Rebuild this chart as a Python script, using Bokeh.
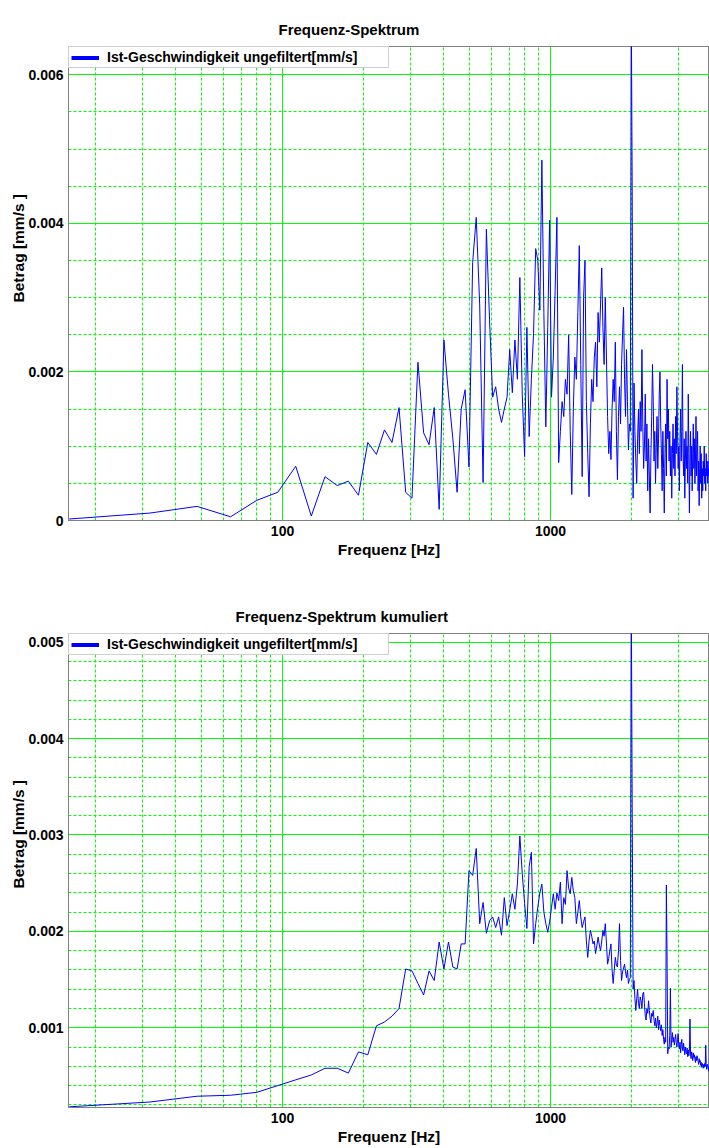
from bokeh.plotting import figure
from bokeh.models import FixedTicker, Range1d, Legend, LegendItem, Title
from bokeh.layouts import column
from bokeh.embed import file_html
from bokeh.resources import INLINE

TITLE_TOP = "Frequenz-Spektrum"
TITLE_BOTTOM = "Frequenz-Spektrum kumuliert"
SERIES_NAME = "Ist-Geschwindigkeit ungefiltert[mm/s]"
X_LABEL = "Frequenz [Hz]"
Y_LABEL = "Betrag [mm/s ]"

BIN_HZ = 16
FREQ_HZ = [BIN_HZ * k for k in range(1, 246)]

AMPLITUDE = [
    0.00002, 0.00010, 0.00019, 0.00005, 0.00027, 0.00038, 0.00073, 0.00006, 0.00059, 0.00047,
    0.00053, 0.00034, 0.00105, 0.00089, 0.00122, 0.00105, 0.00152, 0.00038, 0.00030, 0.00213,
    0.00118, 0.00102, 0.00152, 0.00015, 0.00243, 0.00170, 0.00110, 0.00038, 0.00150, 0.00176,
    0.00072, 0.00347, 0.00408, 0.00290, 0.00051, 0.00392, 0.00270, 0.00166, 0.00180, 0.00150,
    0.00132, 0.00150, 0.00166, 0.00230, 0.00172, 0.00243, 0.00190, 0.00327, 0.00170, 0.00086,
    0.00260, 0.00113, 0.00190, 0.00252, 0.00366, 0.00350, 0.00283, 0.00485, 0.00280, 0.00126,
    0.00260, 0.00404, 0.00166, 0.00220, 0.00310, 0.00408, 0.00078, 0.00120, 0.00160, 0.00140,
    0.00190, 0.00170, 0.00250, 0.00120, 0.00035, 0.00150, 0.00220, 0.00190, 0.00280, 0.00370,
    0.00210, 0.00059, 0.00300, 0.00350, 0.00160, 0.00090, 0.00032, 0.00130, 0.00190, 0.00160,
    0.00220, 0.00240, 0.00180, 0.00280, 0.00240, 0.00290, 0.00340, 0.00260, 0.00210, 0.00300,
    0.00220, 0.00140, 0.00090, 0.00120, 0.00082, 0.00150, 0.00190, 0.00160, 0.00240, 0.00120,
    0.00055, 0.00140, 0.00180, 0.00130, 0.00210, 0.00250, 0.00287, 0.00190, 0.00140, 0.00230,
    0.00160, 0.00095, 0.00130, 0.00120, 0.00700, 0.00450, 0.00030, 0.00185, 0.00120, 0.00080,
    0.00050, 0.00110, 0.00150, 0.00090, 0.00160, 0.00120, 0.00230, 0.00130, 0.00070, 0.00100,
    0.00170, 0.00080, 0.00130, 0.00040, 0.00110, 0.00060, 0.00010, 0.00090, 0.00140, 0.00210,
    0.00160, 0.00080, 0.00120, 0.00050, 0.00100, 0.00140, 0.00070, 0.00110, 0.00170, 0.00200,
    0.00130, 0.00090, 0.00040, 0.00120, 0.00070, 0.00010, 0.00090, 0.00130, 0.00060, 0.00190,
    0.00110, 0.00150, 0.00080, 0.00120, 0.00060, 0.00100, 0.00030, 0.00090, 0.00130, 0.00070,
    0.00110, 0.00060, 0.00140, 0.00090, 0.00180, 0.00120, 0.00070, 0.00100, 0.00040, 0.00110,
    0.00150, 0.00080, 0.00120, 0.00210, 0.00090, 0.00060, 0.00110, 0.00030, 0.00080, 0.00120,
    0.00070, 0.00100, 0.00050, 0.00170, 0.00090, 0.00010, 0.00080, 0.00120, 0.00060, 0.00100,
    0.00040, 0.00090, 0.00130, 0.00070, 0.00110, 0.00050, 0.00080, 0.00140, 0.00060, 0.00090,
    0.00120, 0.00040, 0.00080, 0.00020, 0.00070, 0.00100, 0.00050, 0.00090, 0.00030, 0.00070,
    0.00040, 0.00080, 0.00060, 0.00100, 0.00050, 0.00070, 0.00040, 0.00090, 0.00060, 0.00080,
    0.00050, 0.00070, 0.00060, 0.00080, 0.00060,
]

CUMULATED = [
    0.00018, 0.00023, 0.00029, 0.00030, 0.00033, 0.00040, 0.00046, 0.00051, 0.00058, 0.00058,
    0.00053, 0.00075, 0.00072, 0.00102, 0.00106, 0.00112, 0.00120, 0.00161, 0.00159, 0.00146,
    0.00134, 0.00159, 0.00149, 0.00189, 0.00161, 0.00189, 0.00163, 0.00161, 0.00187, 0.00187,
    0.00263, 0.00258, 0.00286, 0.00208, 0.00230, 0.00198, 0.00211, 0.00215, 0.00204, 0.00215,
    0.00196, 0.00235, 0.00206, 0.00222, 0.00239, 0.00223, 0.00249, 0.00299, 0.00260, 0.00229,
    0.00203, 0.00267, 0.00282, 0.00187, 0.00208, 0.00225, 0.00240, 0.00249, 0.00220, 0.00208,
    0.00199, 0.00210, 0.00225, 0.00239, 0.00223, 0.00240, 0.00232, 0.00251, 0.00208, 0.00235,
    0.00228, 0.00263, 0.00245, 0.00239, 0.00256, 0.00242, 0.00235, 0.00208, 0.00220, 0.00232,
    0.00215, 0.00204, 0.00210, 0.00215, 0.00190, 0.00173, 0.00190, 0.00201, 0.00195, 0.00187,
    0.00190, 0.00177, 0.00185, 0.00194, 0.00186, 0.00180, 0.00190, 0.00201, 0.00195, 0.00208,
    0.00188, 0.00166, 0.00172, 0.00180, 0.00187, 0.00160, 0.00146, 0.00160, 0.00173, 0.00165,
    0.00163, 0.00180, 0.00208, 0.00170, 0.00149, 0.00158, 0.00162, 0.00166, 0.00158, 0.00152,
    0.00160, 0.00146, 0.00150, 0.00152, 0.00560, 0.00330, 0.00140, 0.00149, 0.00130, 0.00118,
    0.00130, 0.00140, 0.00125, 0.00120, 0.00132, 0.00128, 0.00120, 0.00135, 0.00137, 0.00125,
    0.00112, 0.00108, 0.00120, 0.00115, 0.00128, 0.00118, 0.00110, 0.00105, 0.00115, 0.00112,
    0.00118, 0.00108, 0.00102, 0.00110, 0.00100, 0.00105, 0.00112, 0.00098, 0.00108, 0.00102,
    0.00097, 0.00103, 0.00092, 0.00098, 0.00088, 0.00083, 0.00090, 0.00085, 0.00248, 0.00175,
    0.00073, 0.00080, 0.00078, 0.00092, 0.00141, 0.00080, 0.00088, 0.00095, 0.00085, 0.00090,
    0.00082, 0.00088, 0.00093, 0.00085, 0.00080, 0.00088, 0.00094, 0.00082, 0.00078, 0.00085,
    0.00074, 0.00082, 0.00088, 0.00079, 0.00076, 0.00084, 0.00078, 0.00072, 0.00080, 0.00075,
    0.00073, 0.00079, 0.00070, 0.00077, 0.00071, 0.00076, 0.00109, 0.00072, 0.00068, 0.00075,
    0.00071, 0.00066, 0.00074, 0.00069, 0.00072, 0.00067, 0.00064, 0.00070, 0.00066, 0.00071,
    0.00068, 0.00065, 0.00062, 0.00068, 0.00064, 0.00066, 0.00061, 0.00064, 0.00059, 0.00063,
    0.00061, 0.00058, 0.00062, 0.00059, 0.00063, 0.00060, 0.00082, 0.00063, 0.00057, 0.00060,
    0.00062, 0.00058, 0.00055, 0.00060, 0.00059,
]

X_MAJOR_TICKS = [100, 1000]
X_TICK_LABELS = ["100", "1000"]
X_MINOR_TICKS = [20, 30, 40, 50, 60, 70, 80, 90,
                 200, 300, 400, 500, 600, 700, 800, 900,
                 2000, 3000]

Y_TOP_MAJOR = [0, 0.002, 0.004, 0.006]
Y_TOP_LABELS = ["0", "0.002", "0.004", "0.006"]
Y_TOP_MINOR = [0.0005, 0.001, 0.0015, 0.0025, 0.003, 0.0035, 0.0045, 0.005, 0.0055]

Y_BOT_MAJOR = [0.001, 0.002, 0.003, 0.004, 0.005]
Y_BOT_LABELS = ["0.001", "0.002", "0.003", "0.004", "0.005"]
Y_BOT_MINOR = [0.0002, 0.0004, 0.0006, 0.0008, 0.0012, 0.0014, 0.0016, 0.0018,
               0.0022, 0.0024, 0.0026, 0.0028, 0.0032, 0.0034, 0.0036, 0.0038,
               0.0042, 0.0044, 0.0046, 0.0048]

FONT = "Liberation Sans"
GREEN = "#00ff00"
GRAY = "#808080"
BLUE = "#0000ff"


def make_chart(title, title_offset, values, y_range, y_major, y_minor, y_labels,
               height, top, bottom, ylabel_offset):
    p = figure(width=709, height=height, x_axis_type="log",
               x_range=Range1d(15.9, 3917), y_range=Range1d(*y_range),
               output_backend="svg", toolbar_location=None,
               min_border_left=68, min_border_right=0,
               min_border_top=top, min_border_bottom=bottom,
               background_fill_color="white", border_fill_color="white")
    p.title.text = title
    p.title.align = "left"
    p.title.offset = title_offset
    p.title.text_font = FONT
    p.title.text_font_style = "bold"
    p.title.text_font_size = "15px"
    p.title.text_color = "#000000"
    p.title.standoff = 18
    p.outline_line_color = GRAY

    xt = FixedTicker(ticks=X_MAJOR_TICKS, minor_ticks=X_MINOR_TICKS)
    yt = FixedTicker(ticks=y_major, minor_ticks=y_minor)
    p.xaxis.ticker = xt
    p.yaxis.ticker = yt
    p.xgrid.ticker = xt
    p.ygrid.ticker = yt
    p.xaxis.major_label_overrides = dict(zip(X_MAJOR_TICKS, X_TICK_LABELS))
    p.yaxis.major_label_overrides = dict(zip(y_major, y_labels))
    p.xaxis.axis_label = X_LABEL
    for ax in (p.xaxis, p.yaxis):
        ax.major_tick_line_color = None
        ax.minor_tick_line_color = None
        ax.major_tick_out = 0
        ax.minor_tick_out = 0
        ax.axis_line_color = GRAY
        ax.major_label_text_font = FONT
        ax.major_label_text_font_style = "bold"
        ax.major_label_text_font_size = "14px"
        ax.major_label_text_color = "#000000"
        ax.major_label_standoff = 5
        ax.axis_label_text_font = FONT
        ax.axis_label_text_font_style = "bold"
        ax.axis_label_text_font_size = "15.5px"
        ax.axis_label_text_color = "#000000"
        ax.axis_label_standoff = 2
    for g in (p.xgrid, p.ygrid):
        g.grid_line_color = GREEN
        g.grid_line_width = 1
        g.minor_grid_line_color = GREEN
        g.minor_grid_line_dash = "3 2"
        g.minor_grid_line_width = 1

    # y-axis title, placed like the original (above the frame centre)
    p.add_layout(Title(text=Y_LABEL, align="left", offset=ylabel_offset, standoff=-3,
                       text_font=FONT, text_font_style="bold",
                       text_font_size="15.5px", text_color="#000000"), "left")

    p.line(FREQ_HZ, values, line_color=BLUE, line_width=1)
    # hidden copy only to give the legend a thick swatch
    proxy = p.line(FREQ_HZ, values, line_color=BLUE, line_width=4, visible=False)
    legend = Legend(items=[LegendItem(label=SERIES_NAME, renderers=[proxy])],
                    location="top_left", margin=0, padding=2, spacing=0,
                    glyph_width=28, glyph_height=11, label_height=11,
                    label_width=279, label_standoff=8,
                    border_line_color="#a0a0a0", border_line_width=1,
                    background_fill_color="white", background_fill_alpha=1,
                    inactive_fill_alpha=0,
                    label_text_font=FONT, label_text_font_style="bold",
                    label_text_font_size="14px", label_text_color="#000000")
    p.add_layout(legend)
    return p


top = make_chart(TITLE_TOP, 210, AMPLITUDE, (0, 0.00638), Y_TOP_MAJOR, Y_TOP_MINOR,
                 Y_TOP_LABELS, height=590, top=46, bottom=70, ylabel_offset=218)
bottom = make_chart(TITLE_BOTTOM, 167, CUMULATED, (0.000173, 0.00509), Y_BOT_MAJOR,
                    Y_BOT_MINOR, Y_BOT_LABELS, height=558, top=43, bottom=41,
                    ylabel_offset=219)

layout = column(top, bottom, spacing=0)
open("out.html", "w").write(file_html(layout, INLINE))
